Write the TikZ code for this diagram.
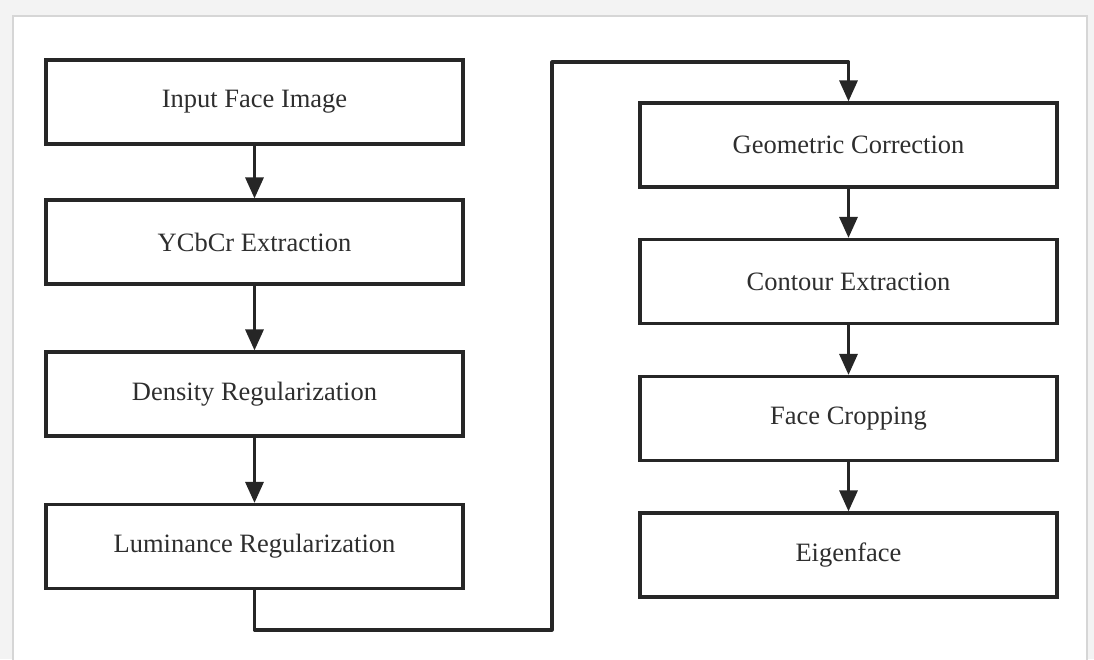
\documentclass[tikz,border=0pt]{standalone}
\usepackage{fontspec}
\setmainfont{Liberation Serif}
\usetikzlibrary{arrows.meta}
\definecolor{bggray}{HTML}{F3F3F3}
\definecolor{framegray}{HTML}{D6D6D6}
\definecolor{txtgray}{HTML}{2E2E2E}
\tikzset{
  stepbox/.style={draw=black!85, line width=3.2pt, fill=white, minimum width=417pt,
    inner sep=0pt, font=\fontsize{26.5}{30}\selectfont, text=txtgray},
  flow/.style={draw=black!85, line width=3.2pt, -{Triangle[width=18pt,length=21pt]}},
}
\begin{document}
\begin{tikzpicture}[x=1pt,y=-1pt]
\useasboundingbox (0,0) rectangle (1094,659);
\fill[bggray] (0,0) rectangle (1094,659);
\draw[framegray, line width=2.5pt, fill=white] (13,16) rectangle (1087,675);
% left column
\node[stepbox, minimum height=84pt] (a1) at (254.5,102) {Input Face Image};
\node[stepbox, minimum height=84pt] (a2) at (254.5,242) {YCbCr Extraction};
\node[stepbox, minimum height=84pt] (a3) at (254.5,394) {Density Regularization};
\node[stepbox, minimum height=84pt] (a4) at (254.5,546.5) {Luminance Regularization};
% right column
\node[stepbox, minimum height=84pt] (b1) at (848.5,145) {Geometric Correction};
\node[stepbox, minimum height=84pt] (b2) at (848.5,281.5) {Contour Extraction};
\node[stepbox, minimum height=84pt] (b3) at (848.5,418.5) {Face Cropping};
\node[stepbox, minimum height=84pt] (b4) at (848.5,555) {Eigenface};
\draw[flow] (a1) -- (a2);
\draw[flow] (a2) -- (a3);
\draw[flow] (a3) -- (a4);
\draw[flow] (b1) -- (b2);
\draw[flow] (b2) -- (b3);
\draw[flow] (b3) -- (b4);
\coordinate (c1) at (254.5,630);
\coordinate (c2) at (552,630);
\coordinate (c3) at (552,62);
\coordinate (c4) at (848.5,62);
\draw[flow, line join=round] (a4.south) -- (c1) -- (c2) -- (c3) -- (c4) -- (b1.north);
\end{tikzpicture}
\end{document}
